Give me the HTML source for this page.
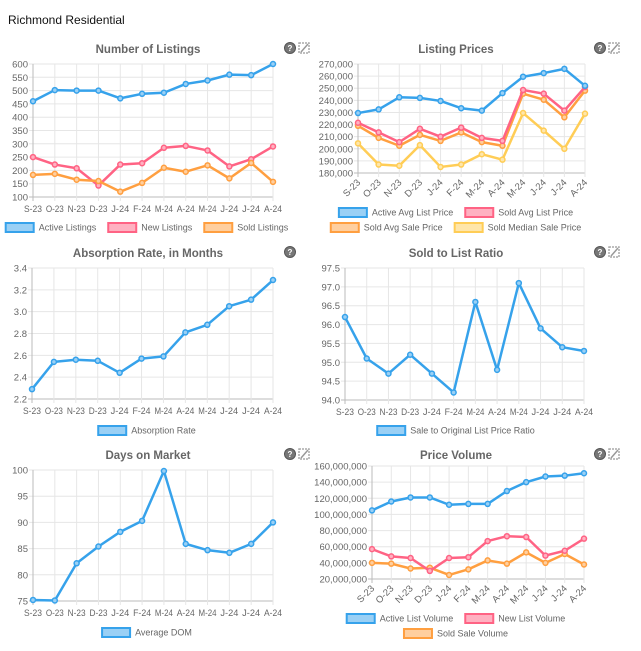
<!DOCTYPE html>
<html><head><meta charset="utf-8"><style>
body{margin:0;background:#fff;font-family:"Liberation Sans",sans-serif;}
svg{display:block}
</style></head><body>
<svg id="s" width="641" height="651" xmlns="http://www.w3.org/2000/svg" font-family="Liberation Sans, sans-serif">
<text x="8" y="24" font-size="12" fill="#111">Richmond Residential</text>
</svg>
<script>
const months = ["S-23","O-23","N-23","D-23","J-24","F-24","M-24","A-24","M-24","J-24","J-24","A-24"];
const listingsActive = [460,502,500,500,471,488,492,525,538,560,558,600];
const listingsNew = [250,222,208,143,222,227,285,292,275,215,242,290];
const listingsSold = [183,187,165,160,120,153,210,195,219,170,228,157];
const listingsTicks = [100,150,200,250,300,350,400,450,500,550,600];
const priceActive = [229500,232500,242500,242000,239500,233500,231500,246000,259500,262500,266000,252000];
const priceSoldList = [221500,213500,205500,216500,210000,217500,209000,206500,248500,245500,231500,251000];
const priceSoldSale = [219000,209000,202500,211500,206500,213500,205500,202500,245500,240500,226000,248000];
const priceMedian = [204500,187000,186000,203000,185000,187000,195500,191000,229500,215000,200000,229000];
const priceTicks = [180000,190000,200000,210000,220000,230000,240000,250000,260000,270000];
const absorption = [2.29,2.54,2.56,2.55,2.44,2.57,2.59,2.81,2.88,3.05,3.11,3.29];
const absorptionTicks = [2.2,2.4,2.6,2.8,3.0,3.2,3.4];
const saleRatio = [96.2,95.1,94.7,95.2,94.7,94.2,96.6,94.8,97.1,95.9,95.4,95.3];
const ratioTicks = [94.0,94.5,95.0,95.5,96.0,96.5,97.0,97.5];
const dom = [75.2,75.1,82.2,85.4,88.2,90.3,99.8,85.9,84.7,84.2,85.9,90.0];
const domTicks = [75,80,85,90,95,100];
const volActive = [105e6,116e6,121e6,121e6,112e6,113e6,113e6,129e6,140e6,147e6,148e6,151e6];
const volNew = [57e6,48e6,46e6,30e6,46e6,47e6,67e6,73e6,72e6,49e6,55e6,70e6];
const volSold = [40e6,39e6,33e6,34e6,25e6,32e6,43e6,39e6,53e6,40e6,51e6,38e6];
const volTicks = [20e6,40e6,60e6,80e6,100e6,120e6,140e6,160e6];

const NS="http://www.w3.org/2000/svg";
const svg=document.getElementById('s');
const C={blue:"#36a2eb",pink:"#ff6384",orange:"#ff9f40",yellow:"#ffcd56"};
const FILL={blue:"#9ad0f5",pink:"#ffb1c1",orange:"#ffcf9f",yellow:"#ffe6aa"};
function el(t,a,p){const e=document.createElementNS(NS,t);for(const k in a)e.setAttribute(k,a[k]);(p||svg).appendChild(e);return e;}
function fmt(v,dec){return dec!=null?v.toFixed(dec):v.toLocaleString('en-US');}

function chart(o){
  const g=el('g',{});
  
  
  const t=el('text',{x:o.tx,y:o.ty,'font-size':11.5,'font-weight':'bold',fill:'#666','text-anchor':'middle'},g);
  t.textContent=o.title;
  
  
  const h=el('g',{},g);
  
  
  el('circle',{cx:o.ix,cy:o.ty-5,r:5.5,fill:'#777',stroke:'#555'},h);
  const q=el('text',{x:o.ix,y:o.ty-2,'font-size':8,fill:'#fff','text-anchor':'middle','font-weight':'bold'},h);q.textContent='?';
  if(o.icon2){
    const p=el('g',{},g);
    
    
    el('rect',{x:o.ix+9,y:o.ty-10,width:10,height:10,fill:'none',stroke:'#aaa','stroke-width':1.5,'stroke-dasharray':'2 1'},p);
    el('path',{d:`M${o.ix+11} ${o.ty-1}L${o.ix+18} ${o.ty-9}`,stroke:'#999','stroke-width':1.5},p);
  }
  const x0=o.x0,x1=o.x1,yT=o.yTop,yB=o.yBot;
  const tk=o.ticks, lo=tk[0], hi=tk[tk.length-1];
  const X=i=>x0+(x1-x0)*i/(months.length-1);
  const Y=v=>yB-(yB-yT)*(v-lo)/(hi-lo);
  tk.forEach(v=>{
    const y=Y(v);
    el('line',{x1:x0-4,x2:x1,y1:y,y2:y,stroke:v===lo?'#bbb':'#e6e6e6'},g);
    const l=el('text',{x:x0-5,y:y+3.5,'font-size':9.5,fill:'#666','text-anchor':'end'},g);
    l.textContent=fmt(v,o.dec);
    
    
  });
  months.forEach((m,i)=>{
    const x=X(i);
    el('line',{x1:x,x2:x,y1:yT,y2:yB+4,stroke:i===0?'#bbb':'#e6e6e6'},g);
    let l;
    if(o.rot){l=el('text',{x:x+3,y:yB+10,'font-size':9.5,fill:'#666','text-anchor':'end',transform:`rotate(-45 ${x+3} ${yB+10})`},g);}
    else l=el('text',{x:x,y:yB+15,'font-size':9.5,fill:'#666','text-anchor':'middle',textLength:18,lengthAdjust:'spacingAndGlyphs'},g);
    l.textContent=m;
    
    
  });
  o.series.forEach(s=>{
    const pts=s.data.map((v,i)=>X(i)+','+Y(v)).join(' ');
    const pl=el('polyline',{points:pts,fill:'none',stroke:C[s.c],'stroke-width':2.5,'stroke-linejoin':'round'},g);
    
    
    s.data.forEach((v,i)=>{
      const c=el('circle',{cx:X(i),cy:Y(v),r:2.5,fill:FILL[s.c],stroke:C[s.c],'stroke-width':1.5},g);
      
      
    });
  });
  o.legend.forEach((row,ri)=>{
    const y=o.ly+ri*15;
    const items=row.map(s=>{
      const lg=el('g',{},g);
      
      
      el('rect',{x:0,y:y-4,width:28,height:9,fill:FILL[s.c],stroke:C[s.c],'stroke-width':2},lg);
      const tt=el('text',{x:33,y:y+3.5,'font-size':9,fill:'#666'},lg);tt.textContent=s.label;
      const w=33+tt.getComputedTextLength();
      return {lg,w};
    });
    const total=items.reduce((a,b)=>a+b.w,0)+12*(items.length-1);
    let cx=o.lc-total/2;
    items.forEach(it=>{it.lg.setAttribute('transform',`translate(${cx},0)`);cx+=it.w+12;});
  });
}

chart({name:'number-of-listings-chart',title:'Number of Listings',tx:148,ty:53,ix:290,icon2:true,
 x0:33,x1:273,yTop:64,yBot:197,ticks:listingsTicks,lc:147,ly:227,
 series:[{data:listingsActive,c:'blue'},{data:listingsNew,c:'pink'},{data:listingsSold,c:'orange'}],
 legend:[[{c:'blue',label:'Active Listings'},{c:'pink',label:'New Listings'},{c:'orange',label:'Sold Listings'}]]});
chart({name:'listing-prices-chart',title:'Listing Prices',tx:456,ty:53,ix:600,icon2:true,
 x0:358,x1:585,yTop:64,yBot:173,ticks:priceTicks,rot:true,lc:456,ly:212,
 series:[{data:priceMedian,c:'yellow'},{data:priceSoldSale,c:'orange'},{data:priceSoldList,c:'pink'},{data:priceActive,c:'blue'}],
 legend:[[{c:'blue',label:'Active Avg List Price'},{c:'pink',label:'Sold Avg List Price'}],[{c:'orange',label:'Sold Avg Sale Price'},{c:'yellow',label:'Sold Median Sale Price'}]]});
chart({name:'absorption-rate-chart',title:'Absorption Rate, in Months',tx:148,ty:257,ix:290,icon2:false,
 x0:32,x1:273,yTop:268,yBot:399,ticks:absorptionTicks,dec:1,lc:147,ly:430,
 series:[{data:absorption,c:'blue'}],legend:[[{c:'blue',label:'Absorption Rate'}]]});
chart({name:'sold-to-list-ratio-chart',title:'Sold to List Ratio',tx:456,ty:257,ix:600,icon2:true,
 x0:345,x1:584,yTop:268,yBot:400,ticks:ratioTicks,dec:1,lc:456,ly:430,
 series:[{data:saleRatio,c:'blue'}],legend:[[{c:'blue',label:'Sale to Original List Price Ratio'}]]});
chart({name:'days-on-market-chart',title:'Days on Market',tx:148,ty:459,ix:290,icon2:true,
 x0:33,x1:273,yTop:470,yBot:601,ticks:domTicks,lc:147,ly:632,
 series:[{data:dom,c:'blue'}],legend:[[{c:'blue',label:'Average DOM'}]]});
chart({name:'price-volume-chart',title:'Price Volume',tx:456,ty:459,ix:600,icon2:true,
 x0:372,x1:584,yTop:466,yBot:579,ticks:volTicks,rot:true,lc:456,ly:618,
 series:[{data:volSold,c:'orange'},{data:volNew,c:'pink'},{data:volActive,c:'blue'}],
 legend:[[{c:'blue',label:'Active List Volume'},{c:'pink',label:'New List Volume'}],[{c:'orange',label:'Sold Sale Volume'}]]});
</script>
</body></html>
